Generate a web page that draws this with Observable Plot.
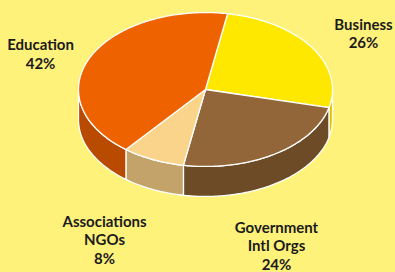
<!DOCTYPE html>
<html>
<head>
<meta charset="utf-8">
<script src="https://cdn.jsdelivr.net/npm/d3@7"></script>
<script src="https://cdn.jsdelivr.net/npm/@observablehq/plot@0.6"></script>
<style>
  html, body { margin: 0; padding: 0; background: #fff27b; }
  #chart { width: 395px; height: 272px; overflow: hidden; }
</style>
</head>
<body>
<div id="chart"></div>
<script>
// ---- data ----
const categories = ["Business", "Government", "Associations", "Education"];
const labelNames = ["Business", "Government\nIntl Orgs", "Associations\nNGOs", "Education"];
const shares = [26, 24, 8, 42];

// ---- styles / layout ----
const topColors  = ["#ffe800", "#936639", "#fbd48b", "#ee6300"];
const sideColors = ["#dcc400", "#6d4b27", "#c3a36a", "#b84b00"];
const START = 10;      // degrees clockwise from top where first slice starts
const TILT = 0.606;    // vertical squash of the disc
const DEPTH = 0.236;   // thickness of the disc (in radius units)
const labelAnchor = {  // label block centres in radius units
  Business: [1.244, 0.445],
  Government: [0.559, -1.228],
  Associations: [-0.795, -1.181],
  Education: [-1.299, 0.283]
};

const W = 395, H = 272, R = 127, CX = 205, CY = 89;
const rad = a => a * Math.PI / 180;
const px = a => Math.sin(rad(a));
const py = a => Math.cos(rad(a)) * TILT;

const total = d3.sum(shares);
let acc = START;
const slices = categories.map((c, i) => {
  const a0 = acc, a1 = acc + shares[i] / total * 360;
  acc = a1;
  return {c, i, a0, a1};
});

function arcPts(a0, a1) {
  const pts = [];
  for (let a = a0; a < a1; a += 1) pts.push(a);
  pts.push(a1);
  return pts;
}

// top faces
const topData = [];
for (const s of slices) {
  topData.push({c: s.c, x: 0, y: 0, fill: topColors[s.i]});
  for (const a of arcPts(s.a0, s.a1)) topData.push({c: s.c, x: px(a), y: py(a), fill: topColors[s.i]});
  topData.push({c: s.c, x: 0, y: 0, fill: topColors[s.i]});
}

// side walls (front half only: 90..270 degrees)
const sideData = [];
for (const s of slices) {
  for (const off of [0, 360]) {
    const lo = Math.max(s.a0, 90 + off), hi = Math.min(s.a1, 270 + off);
    if (hi <= lo) continue;
    const key = s.c + off;
    const pts = arcPts(lo, hi);
    const poly = [];
    for (const a of pts) poly.push({x: px(a), y: py(a)});
    for (const a of pts.slice().reverse()) poly.push({x: px(a), y: py(a) - DEPTH});
    poly.push(poly[0]);
    for (const p of poly) sideData.push({c: key, x: p.x, y: p.y, fill: sideColors[s.i]});
  }
}

const labelData = slices.map(s => ({
  x: labelAnchor[s.c][0],
  y: labelAnchor[s.c][1],
  text: labelNames[s.i] + "\n" + shares[s.i] + "%"
}));

const chart = Plot.plot({
  width: W,
  height: H,
  margin: 0,
  style: {background: "#fff27b", overflow: "visible"},
  x: {axis: null, domain: [-CX / R, (W - CX) / R]},
  y: {axis: null, domain: [-(H - CY) / R, CY / R]},
  color: {type: "identity"},
  marks: [
    Plot.line(sideData, {x: "x", y: "y", z: "c", fill: "fill", stroke: "white", strokeWidth: 1.3, strokeLinejoin: "round", curve: "linear"}),
    Plot.line(topData, {x: "x", y: "y", z: "c", fill: "fill", stroke: "white", strokeWidth: 1.3, strokeLinejoin: "round", curve: "linear"}),
    Plot.text(labelData, {x: "x", y: "y", text: "text", fontFamily: "Lato", fontWeight: "bold", fontSize: 15, lineHeight: 1.25, fill: "#1b1b1b", textAnchor: "middle"})
  ]
});
document.getElementById("chart").appendChild(chart);
</script>
</body>
</html>
